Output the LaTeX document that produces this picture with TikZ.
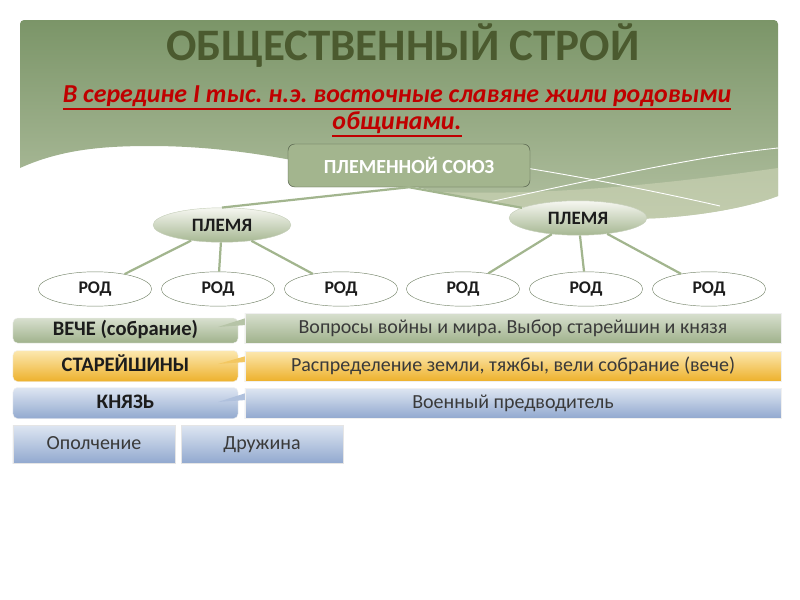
\documentclass[tikz,border=0pt]{standalone}
\usepackage{fontspec}
\setmainfont{Carlito}
\usetikzlibrary{shapes.geometric}
\frenchspacing

\definecolor{paneltop}{HTML}{7B9568}
\definecolor{panelbot}{HTML}{B3C1A2}
\definecolor{palebend}{HTML}{CDD4B6}
\definecolor{titlegreen}{HTML}{4B5A2F}
\definecolor{subred}{HTML}{C00000}
\definecolor{unionfill}{HTML}{A3B58E}
\definecolor{unionedge}{HTML}{4F5A46}
\definecolor{tribetop}{HTML}{F6F7F1}
\definecolor{tribebot}{HTML}{A6B792}
\definecolor{tribeedge}{HTML}{C6CFBA}
\definecolor{rodedge}{HTML}{75856A}
\definecolor{linkgreen}{HTML}{A2B58E}
\definecolor{vechetop}{HTML}{D8E0CF}
\definecolor{vechebot}{HTML}{A0B28C}
\definecolor{eldertop}{HTML}{FCE8B0}
\definecolor{elderbot}{HTML}{EDB12C}
\definecolor{princetop}{HTML}{DEE6F2}
\definecolor{princebot}{HTML}{92A9CF}
\definecolor{txtdark}{HTML}{1C1C1C}
\definecolor{txtgrey}{HTML}{3A3A3A}

\newcommand\redline[1]{\vtop{\hbox{#1}\kern1.6pt{\color{subred}\hrule height1.3pt}}}

\begin{document}
\begin{tikzpicture}[x=0.9pt,y=-0.9pt,
  union/.style={draw=unionedge, fill=unionfill, rounded corners=6pt, minimum width=217.8pt, minimum height=38.7pt, text=white, font=\fontsize{18}{20}\selectfont\bfseries},
  tribe/.style={ellipse, draw=tribeedge, top color=tribetop, bottom color=tribebot, minimum width=124pt, minimum height=31pt, inner sep=0pt, text=txtdark, font=\fontsize{17}{19}\selectfont\bfseries},
  rod/.style={ellipse, draw=rodedge, fill=white, minimum width=102pt, minimum height=31pt, inner sep=0pt, text=txtdark, font=\fontsize{16}{18}\selectfont\bfseries},
  link/.style={draw=linkgreen, line width=2pt},
  leftbar/.style={draw=white!88!gray, rounded corners=4pt, minimum width=202.5pt, minimum height=27.9pt, inner sep=0pt, text height=13pt, text depth=4pt, text=txtdark, font=\fontsize{18.5}{20}\selectfont\bfseries},
  rightbar/.style={draw=white!88!gray, minimum width=482.4pt, minimum height=27pt, inner sep=0pt, text height=13pt, text depth=4pt, text=txtgrey, font=\fontsize{18}{20}\selectfont},
  armybox/.style={draw=white!80!gray, top color=princetop, bottom color=princebot, minimum width=145.8pt, minimum height=34.2pt, inner sep=0pt, text height=13pt, text depth=4pt, text=txtgrey, font=\fontsize{18}{20}\selectfont}]
	\useasboundingbox (0,0) rectangle (800,600);
	% background panel
	\shade[top color=paneltop, bottom color=panelbot] (20,168) -- (20,24) arc (180:270:4) -- (774,20) arc (270:360:4) -- (778,196) .. controls (760,203) and (720,214) .. (660,218) .. controls (600,222) and (500,205) .. (420,188) .. controls (330,168) and (250,146) .. (150,146) .. controls (100,146) and (60,150) .. (20,168) -- cycle;
	\fill[palebend, opacity=0.6] (440,192) .. controls (560,196) and (680,182) .. (778,168) -- (778,196) .. controls (760,203) and (720,214) .. (660,218) .. controls (600,222) and (500,205) .. (440,192) -- cycle;
	\draw[white, line width=0.8pt] (460,158) .. controls (560,172) and (650,190) .. (720,206);
	\draw[white, line width=0.8pt] (480,204) .. controls (600,178) and (700,156) .. (778,148);
	% headings
	\node[text=titlegreen, font=\fontsize{40.5}{46}\selectfont\bfseries] (title) at (403,46) {ОБЩЕСТВЕННЫЙ СТРОЙ};
	\node[text=subred, align=center, font=\fontsize{23.3}{24.3}\selectfont\bfseries\itshape] (intro) at (397,111) {\redline{В середине I тыс. н.э. восточные славяне жили родовыми}\\\redline{общинами.}};
	% tree
	\node[union] (union) at (409,165.5) {ПЛЕМЕННОЙ СОЮЗ};
	\node[tribe] (tribeA) at (222,225) {ПЛЕМЯ};
	\node[tribe] (tribeB) at (578,218) {ПЛЕМЯ};
	\node[rod] (rod1) at (95,289) {РОД};
	\node[rod] (rod2) at (218,289) {РОД};
	\node[rod] (rod3) at (341,289) {РОД};
	\node[rod] (rod4) at (463,289) {РОД};
	\node[rod] (rod5) at (586,289) {РОД};
	\node[rod] (rod6) at (709,289) {РОД};
	\draw[link] (union.south) -- (tribeA.north);
	\draw[link] (union.south) -- (tribeB);
	\draw[link] (tribeA) -- (rod1);
	\draw[link] (tribeA) -- (rod2);
	\draw[link] (tribeA) -- (rod3);
	\draw[link] (tribeB) -- (rod4);
	\draw[link] (tribeB) -- (rod5);
	\draw[link] (tribeB) -- (rod6);
	% power
	\node[leftbar, top color=vechetop, bottom color=vechebot, minimum height=22.5pt] (vecheL) at (125.5,330.5) {ВЕЧЕ (собрание)};
	\node[leftbar, top color=eldertop, bottom color=elderbot] (elderL) at (125.5,366) {СТАРЕЙШИНЫ};
	\node[leftbar, top color=princetop, bottom color=princebot] (princeL) at (125.5,403) {КНЯЗЬ};
	\fill[vechebot!60!vechetop] (246,318) -- (218,327) -- (246,325) -- cycle;
	\fill[elderbot!60!eldertop] (246,356) -- (218,364) -- (246,362) -- cycle;
	\fill[princebot!60!princetop] (246,393) -- (218,402) -- (246,400) -- cycle;
	\node[rightbar, top color=vechetop, bottom color=vechebot] (vecheR) at (513,328) {Вопросы войны и мира. Выбор старейшин и князя};
	\node[rightbar, top color=eldertop, bottom color=elderbot] (elderR) at (513,366) {Распределение земли, тяжбы, вели собрание (вече)};
	\node[rightbar, top color=princetop, bottom color=princebot] (princeR) at (513,403) {Военный предводитель};
	\node[armybox] (militia) at (94,444) {Ополчение};
	\node[armybox] (retinue) at (262,444) {Дружина};
\end{tikzpicture}
\end{document}
